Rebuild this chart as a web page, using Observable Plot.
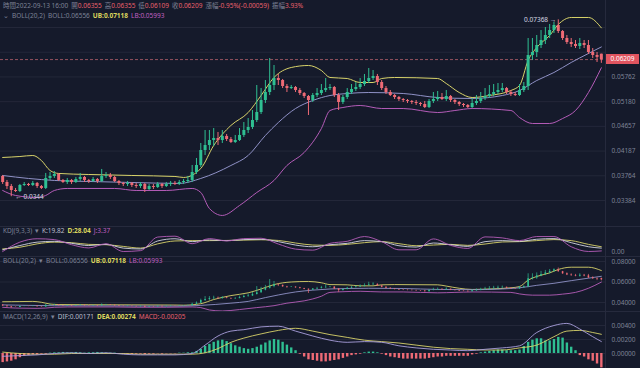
<!DOCTYPE html>
<html><head><meta charset="utf-8">
<script src="https://cdn.jsdelivr.net/npm/d3@7"></script>
<script src="https://cdn.jsdelivr.net/npm/@observablehq/plot@0.6"></script>
<style>
html,body{margin:0;padding:0;background:#151a2b;}
#wrap{position:relative;width:640px;height:368px;overflow:hidden;background:#151a2b;font-family:"Noto Sans","Noto Sans CJK TC",sans-serif;}
.panel{position:absolute;left:0;width:640px;}
.lbl{position:absolute;left:3px;font-size:6.5px;color:#7d8296;white-space:nowrap;line-height:8px;}
.lbl span{margin-right:3px;}
.r{color:#e8606b}.y{color:#dcd55e;font-weight:bold}.p{color:#c060c2}.w{color:#b9bccb}
.sep{position:absolute;left:0;width:640px;height:1px;background:#262a3d;}
#vline{position:absolute;left:605px;top:0;width:1px;height:368px;background:#262a3d;}
#tag{position:absolute;left:606px;width:33px;height:10px;background:#e0545f;color:#fff;font-size:6.5px;line-height:10px;text-align:center;}
</style></head>
<body>
<div id="wrap">
  <div id="vline"></div>
  <div id="main" class="panel" style="top:0"></div>
  <div class="sep" style="top:226px"></div>
  <div id="kdj" class="panel" style="top:226px"></div>
  <div class="sep" style="top:256px"></div>
  <div id="boll" class="panel" style="top:256px"></div>
  <div class="sep" style="top:311px"></div>
  <div id="macd" class="panel" style="top:311px"></div>
  <div class="lbl" style="top:2px"><span>時間2022-09-13 16:00</span><span>開<b class="r" style="font-weight:normal">0.06355</b></span><span>高<b class="r" style="font-weight:normal">0.06355</b></span><span>低<b class="r" style="font-weight:normal">0.06109</b></span><span>收<b class="r" style="font-weight:normal">0.06209</b></span><span>漲幅<b class="r" style="font-weight:normal">-0.95%(-0.00059)</b></span><span>振幅<b class="r" style="font-weight:normal">3.93%</b></span></div>
  <div class="lbl" style="top:12px"><span>⌄</span><span>BOLL(20,2)</span><span>BOLL:0.06556</span><span class="y">UB:0.07118</span><span class="p">LB:0.05993</span></div>
  <div class="lbl" style="top:227px"><span>KDJ(9,3,3)</span><span>▾</span><span class="w">K:19.82</span><span class="y">D:28.04</span><span class="p">J:3.37</span></div>
  <div class="lbl" style="top:257px"><span>BOLL(20,2)</span><span>▾</span><span>BOLL:0.06556</span><span class="y">UB:0.07118</span><span class="p">LB:0.05993</span></div>
  <div class="lbl" style="top:313px"><span>MACD(12,26,9)</span><span>▾</span><span class="w">DIF:0.00171</span><span class="y">DEA:0.00274</span><span class="r">MACD:-0.00205</span></div>
  <div id="tag">0.06209</div>
</div>
<script>
// ---------- candle data ----------
const opens = [0.03753,0.03657,0.03594,0.03533,0.03518,0.03610,0.03626,0.03610,0.03642,0.03594,
0.03564,0.03721,0.03753,0.03785,0.03689,0.03657,0.03689,0.03657,0.03705,0.03737,
0.03689,0.03673,0.03705,0.03673,0.03753,0.03769,0.03737,0.03673,0.03642,0.03626,
0.03642,0.03610,0.03594,0.03626,0.03548,0.03594,0.03579,0.03626,0.03594,0.03626,
0.03642,0.03626,0.03657,0.03673,0.03689,0.03818,0.03935,0.04197,0.04289,0.04382,
0.04420,0.04382,0.04459,0.04401,0.04344,0.04382,0.04478,0.04575,0.04635,0.04776,
0.04943,0.05206,0.05388,0.05553,0.05723,0.05674,0.05529,0.05481,0.05505,0.05435,
0.05365,0.05296,0.05206,0.05319,0.05365,0.05435,0.05481,0.05505,0.05319,0.05161,
0.05273,0.05388,0.05458,0.05505,0.05577,0.05650,0.05723,0.05773,0.05625,0.05481,
0.05388,0.05319,0.05273,0.05228,0.05206,0.05184,0.05161,0.05139,0.05117,0.05051,
0.05184,0.05228,0.05273,0.05228,0.05296,0.05206,0.05161,0.05117,0.05095,0.05051,
0.05139,0.05184,0.05251,0.05296,0.05342,0.05388,0.05435,0.05481,0.05388,0.05342,
0.05319,0.05435,0.05529,0.06319,0.06402,0.06597,0.06741,0.06888,0.07037,0.07191,
0.07007,0.06799,0.06683,0.06626,0.06569,0.06654,0.06597,0.06402,0.06319,0.06355];
const closes = [0.03657,0.03594,0.03533,0.03518,0.03610,0.03626,0.03610,0.03642,0.03594,0.03564,
0.03721,0.03753,0.03785,0.03689,0.03657,0.03689,0.03657,0.03705,0.03737,0.03689,
0.03673,0.03705,0.03673,0.03753,0.03769,0.03737,0.03673,0.03642,0.03626,0.03642,
0.03610,0.03594,0.03626,0.03548,0.03594,0.03579,0.03626,0.03594,0.03626,0.03642,
0.03626,0.03657,0.03673,0.03689,0.03818,0.03935,0.04197,0.04289,0.04382,0.04420,
0.04382,0.04459,0.04401,0.04344,0.04382,0.04478,0.04575,0.04635,0.04776,0.04943,
0.05206,0.05388,0.05553,0.05723,0.05674,0.05529,0.05481,0.05505,0.05435,0.05365,
0.05296,0.05206,0.05319,0.05365,0.05435,0.05481,0.05505,0.05319,0.05161,0.05273,
0.05388,0.05458,0.05505,0.05577,0.05650,0.05723,0.05773,0.05625,0.05481,0.05388,
0.05319,0.05273,0.05228,0.05206,0.05184,0.05161,0.05139,0.05117,0.05051,0.05184,
0.05228,0.05273,0.05228,0.05296,0.05206,0.05161,0.05117,0.05095,0.05051,0.05139,
0.05184,0.05251,0.05296,0.05342,0.05388,0.05435,0.05481,0.05388,0.05342,0.05319,
0.05435,0.05529,0.06319,0.06402,0.06597,0.06741,0.06888,0.07037,0.07191,0.07007,
0.06799,0.06683,0.06626,0.06569,0.06654,0.06597,0.06402,0.06319,0.06268,0.06209];
const highs = [0.03769,0.03689,0.03626,0.03564,0.03626,0.03657,0.03642,0.03673,0.03657,0.03610,
0.03802,0.03818,0.03834,0.03802,0.03705,0.03721,0.03705,0.03737,0.03802,0.03753,
0.03705,0.03737,0.03721,0.03868,0.03818,0.03802,0.03753,0.03689,0.03657,0.03673,
0.03657,0.03642,0.03657,0.03642,0.03626,0.03626,0.03657,0.03642,0.03657,0.03673,
0.03673,0.03689,0.03705,0.03753,0.03935,0.04055,0.04326,0.04575,0.04575,0.04614,
0.04536,0.04575,0.04497,0.04439,0.04478,0.04614,0.04735,0.04817,0.04986,0.05553,
0.05481,0.05674,0.06238,0.06053,0.05823,0.05699,0.05577,0.05553,0.05529,0.05481,
0.05388,0.05319,0.05365,0.05481,0.05577,0.05723,0.05577,0.05529,0.05365,0.05319,
0.05481,0.05577,0.05625,0.05723,0.05823,0.05975,0.05924,0.05823,0.05674,0.05529,
0.05435,0.05342,0.05296,0.05251,0.05228,0.05206,0.05206,0.05161,0.05184,0.05228,
0.05388,0.05412,0.05365,0.05435,0.05319,0.05228,0.05184,0.05139,0.05117,0.05251,
0.05319,0.05388,0.05481,0.05553,0.05577,0.05601,0.05601,0.05505,0.05435,0.05388,
0.05577,0.05625,0.06799,0.06799,0.06888,0.07037,0.07129,0.07222,0.07284,0.07368,
0.07037,0.06888,0.06799,0.06741,0.06799,0.06741,0.06741,0.06512,0.06402,0.06355];
const lows = [0.03626,0.03548,0.03440,0.03503,0.03503,0.03594,0.03594,0.03594,0.03564,0.03548,
0.03548,0.03689,0.03721,0.03673,0.03642,0.03626,0.03626,0.03642,0.03673,0.03657,
0.03642,0.03657,0.03642,0.03657,0.03721,0.03705,0.03657,0.03610,0.03594,0.03594,
0.03579,0.03564,0.03564,0.03503,0.03533,0.03548,0.03564,0.03564,0.03579,0.03594,
0.03610,0.03610,0.03626,0.03642,0.03657,0.03785,0.03901,0.04108,0.04197,0.04270,
0.04289,0.04326,0.04363,0.04326,0.04326,0.04363,0.04439,0.04516,0.04595,0.04735,
0.04901,0.05139,0.05319,0.05435,0.05553,0.05481,0.05388,0.05458,0.05388,0.05319,
0.05251,0.04880,0.05161,0.05273,0.05319,0.05388,0.05435,0.05273,0.04986,0.05117,
0.05228,0.05342,0.05412,0.05458,0.05529,0.05601,0.05674,0.05553,0.05435,0.05342,
0.05296,0.05228,0.05184,0.05161,0.05139,0.05117,0.05095,0.05073,0.05029,0.05029,
0.05139,0.05184,0.05206,0.05184,0.05161,0.05117,0.05073,0.05051,0.05029,0.05029,
0.05095,0.05139,0.05206,0.05251,0.05296,0.05342,0.05388,0.05342,0.05296,0.05296,
0.05296,0.05388,0.05435,0.06185,0.06265,0.06512,0.06626,0.06799,0.06947,0.06947,
0.06741,0.06626,0.06541,0.06512,0.06484,0.06512,0.06347,0.06238,0.06132,0.06109];

// ---------- Bollinger bands (read at sample candles) ----------
const ubIdx = [0,4,7,9,11,13,20,30,40,42,46,49,53,57,60,63,67,71,74,76,80,83,86,88,91,101,103,106,109,113,118,120,122,124,127,129,132,136,139];
const ubVals = [0.04073,0.04090,0.04108,0.04020,0.03851,0.03802,0.03785,0.03769,0.03753,0.03737,0.03884,0.04289,0.04675,0.04943,0.05319,0.05748,0.06001,0.06053,0.05924,0.05748,0.05723,0.05625,0.05625,0.05723,0.05748,0.05723,0.05601,0.05388,0.05273,0.05319,0.05435,0.05553,0.06185,0.06541,0.06888,0.07222,0.07443,0.07443,0.07118];
const mbIdx = [0,6,12,20,30,41,46,53,57,61,64,68,72,76,80,85,93,101,109,116,120,124,128,132,136,139];
const mbVals = [0.03769,0.03721,0.03689,0.03673,0.03657,0.03642,0.03721,0.03935,0.04108,0.04478,0.04735,0.05029,0.05206,0.05319,0.05365,0.05388,0.05365,0.05273,0.05251,0.05319,0.05435,0.05674,0.05873,0.06132,0.06374,0.06556];
const lbIdx = [0,3,8,10,12,15,26,31,38,44,46,48,51,55,59,63,66,70,74,76,79,83,88,93,101,105,109,118,120,123,127,130,133,136,139];
const lbVals = [0.03533,0.03458,0.03428,0.03458,0.03533,0.03564,0.03564,0.03533,0.03533,0.03564,0.03503,0.03270,0.03173,0.03312,0.03503,0.03689,0.03935,0.04161,0.04614,0.04986,0.05051,0.05095,0.05029,0.05029,0.04943,0.04986,0.05029,0.04986,0.04838,0.04715,0.04715,0.04817,0.04986,0.05388,0.05993];

// ---------- KDJ ----------
const kdjIdx = [0,4,8,12,16,20,24,28,32,36,40,44,48,52,56,60,64,68,72,76,80,84,88,92,96,100,104,108,112,116,120,124,128,132,136,139];
const kVals = [10,35,55,60,48,35,42,20,15,62,75,58,68,64,70,72,58,38,28,40,48,64,58,34,26,50,40,30,58,64,60,72,76,52,28,19.82];
const dVals = [15,25,45,55,52,42,40,30,20,45,62,64,64,65,67,69,65,50,38,36,42,52,58,46,34,38,42,36,44,56,58,64,70,64,42,28.04];
const jVals = [0,55,75,70,40,21,46,0,5,85,90,46,76,62,76,78,44,14,8,48,60,88,58,10,10,74,36,18,86,80,64,88,88,28,0,3.37];

// ---------- MACD ----------
const macdHist = [-0.0013,-0.0012,-0.0011,-0.0009,-0.0006,-0.0004,-0.0003,-0.0002,-0.0002,-0.0001,
-0.0001,0.00005,0.0001,0.0001,0.00015,0.0001,0.0001,0.00015,0.0001,0.00005,
0.0001,0.0001,0.00015,0.0001,0.00005,0.00005,0.00005,-0.00005,-0.0001,-0.0001,
-0.00015,-0.0001,-0.0001,-0.00015,-0.0001,-0.0001,-0.00005,-0.0001,-0.00005,-0.00005,
-0.00005,0.00005,0.00005,0.0001,0.0001,0.0003,0.0006,0.0010,0.0013,0.0016,
0.0018,0.0019,0.0017,0.0014,0.0011,0.0009,0.0007,0.0006,0.0007,0.0009,
0.0012,0.0015,0.0018,0.0020,0.0019,0.0016,0.0012,0.0008,0.0004,-0.0001,
-0.0005,-0.0009,-0.0010,-0.0011,-0.0012,-0.0012,-0.0011,-0.0010,-0.0009,-0.0007,
-0.0005,-0.0003,-0.0002,-0.0001,0.0001,0.0002,0.0002,0.0001,-0.0001,-0.0003,
-0.0005,-0.0006,-0.0007,-0.0008,-0.0008,-0.0008,-0.0008,-0.0008,-0.0008,-0.0007,
-0.0006,-0.0005,-0.0005,-0.0004,-0.0004,-0.0004,-0.0004,-0.0004,-0.0004,-0.0002,
-0.0001,0.0001,0.0002,0.0003,0.0004,0.0005,0.0005,0.0004,0.0004,0.0004,
0.0005,0.0010,0.0016,0.0019,0.0021,0.0021,0.0018,0.0018,0.0020,0.0023,
0.0022,0.0015,0.0009,0.0004,-0.0003,-0.0005,-0.0009,-0.0011,-0.0015,-0.00205];
const macdIdx = [0,4,8,12,16,20,24,28,32,36,40,44,47,50,53,56,60,64,68,72,76,80,84,88,92,96,100,104,108,112,116,120,124,128,131,134,137,139];
const difVals = [-0.0004,-0.0003,-0.0002,0,0.0001,0,0.0001,-0.0001,-0.0002,-0.0002,-0.0002,0,0.0012,0.0025,0.0032,0.0034,0.0038,0.0039,0.0032,0.0025,0.0019,0.0016,0.0017,0.0016,0.0011,0.0008,0.0006,0.0005,0.0004,0.0006,0.0008,0.0011,0.0030,0.0040,0.0043,0.0035,0.0024,0.00171];
const deaVals = [0.0002,0,-0.0001,-0.0001,0,0,0,0,-0.0001,-0.0001,-0.0001,-0.0001,0.0001,0.0007,0.0016,0.0022,0.0028,0.0033,0.0036,0.0032,0.0027,0.0023,0.0019,0.0017,0.0015,0.0012,0.0009,0.0007,0.0006,0.0005,0.0005,0.0008,0.0012,0.0024,0.0032,0.0033,0.0030,0.00274];

// ---------- ticks & annotations ----------
const mainTicks = [0.03384,0.03764,0.04187,0.04657,0.05180,0.05762,0.06409,0.07129];
const bollTicks = [0.04,0.06,0.08];
const kdjTicks = [0];
const macdTicks = [0,0.002,0.004];
const extremeIdx = [129, 2];
const extremeVals = [0.07368, 0.0344];
const extremeText = ["0.07368 →", "← 0.0344"];
const lastPrice = 0.06209;

// ---------- build tables ----------
const candles = closes.map((c, i) => ({i, open: opens[i], close: c, high: highs[i], low: lows[i]}));
const series = (idx, vals) => idx.map((i, k) => ({i, v: vals[k]}));
const ub = series(ubIdx, ubVals), mb = series(mbIdx, mbVals), lb = series(lbIdx, lbVals);
const kL = series(kdjIdx, kVals), dL = series(kdjIdx, dVals), jL = series(kdjIdx, jVals);
const hist = macdHist.map((h, i) => ({i, h}));
const dif = series(macdIdx, difVals), dea = series(macdIdx, deaVals);
const extremes = extremeIdx.map((i, k) => ({i, v: extremeVals[k], t: extremeText[k]}));

const UP = "#2fbf92", DOWN = "#ee6a75", YEL = "#d8d36a", MID = "#8f91c6", LOW = "#b45cb8", WHITE = "#d3d5e2";
const FONT = "'Noto Sans', sans-serif";
const xOpt = {domain: [-0.5, closes.length - 0.5], range: [0, 603], axis: null, label: null};
const up = d => d.close >= d.open, dn = d => d.close < d.open;

function candleMarks(bw, ww) {
  return [
    Plot.ruleX(candles, {filter: up, x: "i", y1: "low", y2: "high", stroke: UP, strokeWidth: ww}),
    Plot.ruleX(candles, {filter: dn, x: "i", y1: "low", y2: "high", stroke: DOWN, strokeWidth: ww}),
    Plot.ruleX(candles, {filter: up, x: "i", y1: "open", y2: "close", stroke: UP, strokeWidth: bw}),
    Plot.ruleX(candles, {filter: dn, x: "i", y1: "open", y2: "close", stroke: DOWN, strokeWidth: bw})
  ];
}
function axis(ticks, fmt) {
  return Plot.axisY(ticks, {anchor: "right", tickSize: 0, tickPadding: 6, tickFormat: fmt, fill: "#7d8296", fontSize: 6.5, label: null});
}
function mk(h, y, marks) {
  return Plot.plot({
    width: 640, height: h, marginLeft: 0, marginRight: 35, marginTop: 0, marginBottom: 0,
    x: xOpt, y: {...y, label: null},
    style: {background: "transparent", color: "#7d8296", fontFamily: FONT, fontSize: "6.5px", overflow: "visible"},
    marks
  });
}
const lineOpt = (stroke, w) => ({x: "i", y: "v", stroke, strokeWidth: w || 1, curve: "monotone-x"});

// main
const main = mk(226, {type: "log", domain: [0.03384, 0.07129], range: [200, 27]}, [
  Plot.gridY(mainTicks, {stroke: "#232739", strokeOpacity: 1}),
  axis(mainTicks, d => d.toFixed(5)),
  Plot.ruleY([lastPrice], {stroke: "#b8606c", strokeDasharray: "3,2", strokeWidth: 0.8}),
  Plot.line(ub, lineOpt(YEL)),
  Plot.line(mb, lineOpt(MID)),
  Plot.line(lb, lineOpt(LOW)),
  ...candleMarks(3, 1),
  Plot.text(extremes, {filter: d => d.t.endsWith("→"), x: "i", y: "v", text: "t", textAnchor: "end", dx: -2, fill: "#d6d8e2", fontSize: 6.5}),
  Plot.text(extremes, {filter: d => d.t.startsWith("←"), x: "i", y: "v", text: "t", textAnchor: "start", dx: 4, fill: "#d6d8e2", fontSize: 6.5})
]);
document.getElementById("main").append(main);
const ys = main.scale("y");
document.getElementById("tag").style.top = (ys.apply(lastPrice) - 5) + "px";

// KDJ
document.getElementById("kdj").append(mk(30, {domain: [0, 100], range: [25, 8]}, [
  axis(kdjTicks, d => d.toFixed(2)),
  Plot.line(dL, lineOpt(YEL, 0.9)),
  Plot.line(kL, lineOpt(WHITE, 0.9)),
  Plot.line(jL, lineOpt(LOW, 0.9))
]));

// BOLL sub panel
document.getElementById("boll").append(mk(55, {domain: [0.04, 0.08], range: [46, 5]}, [
  Plot.gridY(bollTicks, {stroke: "#232739", strokeOpacity: 1}),
  axis(bollTicks, d => d.toFixed(5)),
  Plot.line(ub, lineOpt(YEL, 0.9)),
  Plot.line(mb, lineOpt(MID, 0.9)),
  Plot.line(lb, lineOpt(LOW, 0.9)),
  ...candleMarks(1.6, 0.7)
]));

// MACD
document.getElementById("macd").append(mk(57, {domain: [0, 0.004], range: [42, 14]}, [
  Plot.gridY(macdTicks, {stroke: "#232739", strokeOpacity: 1}),
  axis(macdTicks, d => d.toFixed(5)),
  Plot.ruleX(hist, {filter: d => d.h >= 0, x: "i", y1: 0, y2: "h", stroke: UP, strokeWidth: 2.4}),
  Plot.ruleX(hist, {filter: d => d.h < 0, x: "i", y1: 0, y2: "h", stroke: DOWN, strokeWidth: 2.4}),
  Plot.line(dea, lineOpt(YEL, 0.9)),
  Plot.line(dif, lineOpt("#a99fdc", 0.9))
]));
</script>
</body></html>
